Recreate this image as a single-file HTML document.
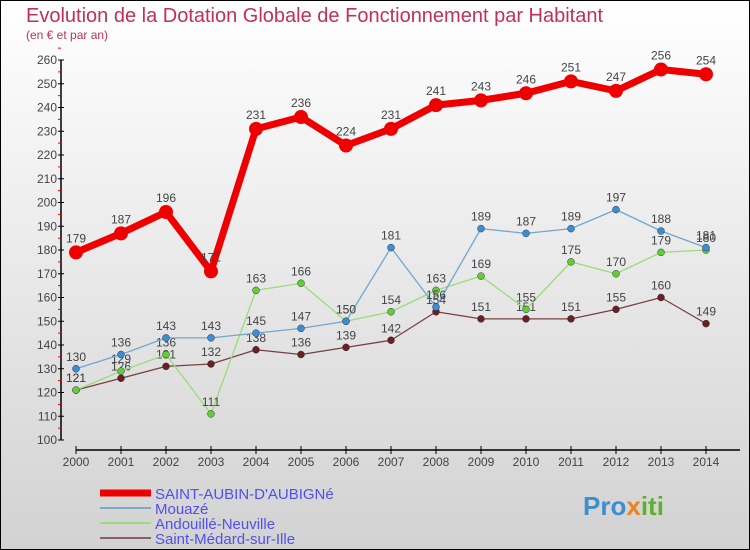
<!DOCTYPE html>
<html><head><meta charset="utf-8"><style>
body{margin:0}
#c{width:750px;height:550px;position:relative;overflow:hidden;font-family:"Liberation Sans",sans-serif}
</style></head><body>
<div id="c">
<svg id="s" width="750" height="550" xmlns="http://www.w3.org/2000/svg">
<defs><linearGradient id="bg" x1="0" y1="0" x2="0" y2="1"><stop offset="0" stop-color="#ffffff"/><stop offset="1" stop-color="#d2d2d2"/></linearGradient></defs>
<rect x="0.5" y="0.5" width="749" height="549" fill="url(#bg)" stroke="#000"/>
<text x="26" y="22" font-size="20" fill="#c0305a">Evolution de la Dotation Globale de Fonctionnement par Habitant</text>
<text x="26" y="39" font-size="12" fill="#c0305a">(en € et par an)</text>
<g id="axes"></g><g id="series"></g><g id="legend"></g>
<text x="583" y="515" font-size="26" font-weight="bold" fill="#3a8fd0">Pro<tspan fill="#f08020">x</tspan><tspan fill="#60b030">iti</tspan></text>
</svg></div>
<script>
const years=[2000,2001,2002,2003,2004,2005,2006,2007,2008,2009,2010,2011,2012,2013,2014];
const yTicks=[100,110,120,130,140,150,160,170,180,190,200,210,220,230,240,250,260];
const aubin=[179,187,196,171,231,236,224,231,241,243,246,251,247,256,254];
const mouaze=[130,136,143,143,145,147,150,181,156,189,187,189,197,188,181];
const andouille=[121,129,136,111,163,166,150,154,163,169,155,175,170,179,180];
const medard=[121,126,131,132,138,136,139,142,154,151,151,151,155,160,149];
const names=["SAINT-AUBIN-D'AUBIGNé","Mouazé","Andouillé-Neuville","Saint-Médard-sur-Ille"];
const NS="http://www.w3.org/2000/svg";
const xs=i=>76+i*45;
const ys=v=>440-(v-100)*2.375;
function mk(t,a,p){const e=document.createElementNS(NS,t);for(const k in a)e.setAttribute(k,a[k]);p.appendChild(e);return e;}
const ax=document.getElementById('axes');
const yl=mk('line',{x1:61,y1:60,x2:61,y2:440,stroke:'#000','stroke-width':1.5},ax);


yTicks.forEach(v=>{
 mk('line',{x1:58,y1:ys(v),x2:64,y2:ys(v),stroke:'#000'},ax);
 mk('line',{x1:58,y1:ys(v+5),x2:61,y2:ys(v+5),stroke:'#e00'},ax);
 const t=mk('text',{x:57,y:ys(v)+4,'font-size':12,fill:'#444','text-anchor':'end'},ax);t.textContent=v;
 
 
});
const xl=mk('line',{x1:76,y1:450,x2:740,y2:450,stroke:'#000','stroke-width':1.5},ax);


years.forEach((y,i)=>{
 mk('line',{x1:xs(i),y1:446,x2:xs(i),y2:454,stroke:'#000'},ax);
 const t=mk('text',{x:xs(i),y:466,'font-size':12,fill:'#444','text-anchor':'middle'},ax);t.textContent=y;
 
 
});
const sg=document.getElementById('series');
const cfg=[[aubin,'#ee0000',7,7,'#ee0000'],[mouaze,'#6fa8d0',1.3,3.5,'#3b8ed0'],[andouille,'#99dd77',1.3,3.5,'#66cc33'],[medard,'#7a4040',1.3,3.5,'#6a2020']];
const order=[3,2,1,0];
order.forEach(k=>{
 const [d,col,w,r,fc]=cfg[k];
 const g=mk('g',{},sg);
 
 
 mk('polyline',{points:d.map((v,i)=>xs(i)+','+ys(v)).join(' '),fill:'none',stroke:col,'stroke-width':w,'stroke-linejoin':'round'},g);
 d.forEach((v,i)=>{
  const c=mk('circle',{cx:xs(i),cy:ys(v),r:r,fill:fc,stroke:k==0?'none':'#335',"stroke-width":0.5},g);
  
  
  const t=mk('text',{x:xs(i),y:ys(v)-(k==0?10:8),'font-size':12,fill:'#444','text-anchor':'middle'},g);t.textContent=v;
  
  
 });
});
const lg=document.getElementById('legend');
const lw=[7,2,2,2];
const lc=['#ee0000','#7fa8c8','#99dd77','#8a6060'];
names.forEach((n,i)=>{
 const y=493+i*15;
 const g=mk('g',{},lg);
 
 
 mk('line',{x1:100,y1:y,x2:151,y2:y,stroke:lc[i],'stroke-width':lw[i]},g);
 const t=mk('text',{x:155,y:y+6,'font-size':15,fill:'#5050ee'},g);t.textContent=n;
});
</script>
</body></html>
